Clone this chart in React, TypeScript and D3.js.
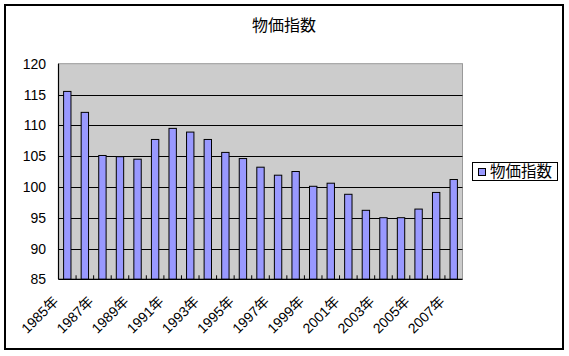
import React from "react";
import * as d3 from "d3";

const title = "物価指数";
const seriesName = "物価指数";
const years = [
  "1985年", "1986年", "1987年", "1988年", "1989年", "1990年", "1991年", "1992年",
  "1993年", "1994年", "1995年", "1996年", "1997年", "1998年", "1999年", "2000年",
  "2001年", "2002年", "2003年", "2004年", "2005年", "2006年", "2007年",
];
const values = [
  115.5, 112.1, 105.1, 104.9, 104.5, 107.7, 109.5, 108.9,
  107.7, 105.6, 104.6, 103.2, 101.9, 102.5, 100.1, 100.6,
  98.8, 96.2, 95.0, 95.0, 96.4, 99.1, 101.2,
];
const yTicks = [85, 90, 95, 100, 105, 110, 115, 120];

const W = 569;
const H = 356;
const plot = { left: 58.5, right: 462.5, top: 63.7, bottom: 279.3 };
const barFill = "#9999ff";
const cjk = "'Noto Sans CJK JP', 'Noto Sans', sans-serif";
const latin = "'Liberation Sans', Arial, sans-serif";

export default function App() {
  const x = d3
    .scaleBand<string>()
    .domain(years)
    .range([plot.left, plot.right])
    .paddingInner(0.58)
    .paddingOuter(0.29);
  const step = x.step();
  const y = d3.scaleLinear().domain([85, 120]).range([plot.bottom, plot.top]);

  const boundaries = d3.range(1, years.length).map((i) => plot.left + i * step);

  return (
    <svg
      width={W}
      height={H}
      style={{ position: "absolute", left: 0, top: 0, background: "#fff" }}
    >
      <rect x={5} y={5} width={558} height={344} fill="#fff" stroke="#000" strokeWidth={2} />
      <text x={284} y={31} textAnchor="middle" fontFamily={cjk} fontSize={16} fill="#000">
        {title}
      </text>

      {/* plot area */}
      <rect
        x={plot.left}
        y={plot.top}
        width={plot.right - plot.left}
        height={plot.bottom - plot.top}
        fill="#cccccc"
        stroke="#999999"
        strokeWidth={1}
      />
      {yTicks
        .filter((t) => t > 85 && t < 120)
        .map((t) => (
          <line
            key={t}
            x1={plot.left}
            x2={plot.right}
            y1={Math.round(y(t)) + 0.5}
            y2={Math.round(y(t)) + 0.5}
            stroke="#000"
            strokeWidth={1}
          />
        ))}

      {/* bars */}
      {values.map((v, i) => (
        <rect
          key={years[i]}
          x={x(years[i])!}
          y={y(v)}
          width={x.bandwidth()}
          height={y(85) - y(v)}
          fill={barFill}
          stroke="#000"
          strokeWidth={1}
        />
      ))}

      {/* axes */}
      <line x1={plot.left} x2={plot.left} y1={plot.top} y2={plot.bottom} stroke="#000" strokeWidth={1.2} />
      <line x1={plot.left} x2={plot.right} y1={plot.bottom} y2={plot.bottom} stroke="#000" strokeWidth={1.2} />
      {boundaries.map((bx, i) => (
        <line
          key={i}
          x1={bx}
          x2={bx}
          y1={plot.bottom}
          y2={plot.bottom - 4}
          stroke="#000"
          strokeWidth={1}
        />
      ))}

      {/* y labels */}
      {yTicks.map((t) => (
        <text
          key={t}
          x={46}
          y={y(t)}
          dy="0.36em"
          textAnchor="end"
          fontFamily={latin}
          fontSize={14}
          fill="#000"
        >
          {t}
        </text>
      ))}

      {/* x labels */}
      {years.map((yr, i) =>
        i % 2 === 0 ? (
          <text
            key={yr}
            transform={`translate(${x(yr)! + x.bandwidth() / 2 - 8},${plot.bottom + 23}) rotate(-45)`}
            textAnchor="end"
            fontFamily={cjk}
            fontSize={14}
            fill="#000"
          >
            <tspan fontFamily={latin}>{yr.slice(0, 4)}</tspan>
            <tspan>{yr.slice(4)}</tspan>
          </text>
        ) : null
      )}

      {/* legend */}
      <rect x={472.5} y={162.5} width={85} height={18} fill="#fff" stroke="#000" strokeWidth={1} />
      <rect x={478.5} y={168.5} width={7} height={7} fill={barFill} stroke="#000" strokeWidth={1} />
      <text x={490} y={177} fontFamily={cjk} fontSize={15.5} fill="#000">
        {seriesName}
      </text>
    </svg>
  );
}
